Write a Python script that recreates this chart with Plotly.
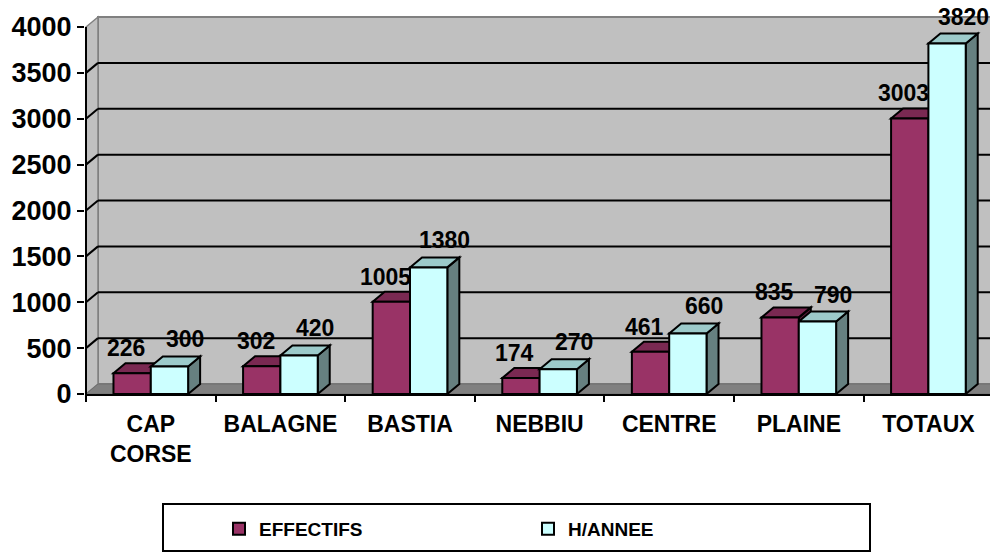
import plotly.graph_objects as go

# ---------------- data ----------------
categories = ["CAP<br>CORSE", "BALAGNE", "BASTIA", "NEBBIU", "CENTRE", "PLAINE", "TOTAUX"]
effectifs = [226, 302, 1005, 174, 461, 835, 3003]
h_annee = [300, 420, 1380, 270, 660, 790, 3820]
series_names = ["EFFECTIFS", "H/ANNEE"]
y_ticks = [0, 500, 1000, 1500, 2000, 2500, 3000, 3500, 4000]

# ---------------- styling / geometry ----------------
W, H = 990, 553
AXIS_X_PX = 86          # pixel of the value axis line
FLOOR_Y_PX = 394        # pixel of value 0 (front)
ML, MT = 85, 10
MB = H - FLOOR_Y_PX
CAT_PX = 129.6          # pixels per category
Y_MAX = 4000
Y_SPAN_PX = 367         # pixels from 0 to 4000
DX_PX, DY_PX = 12, 10   # 3D depth offset
BAR_W = 0.288           # bar width in category units

px_per_val = Y_SPAN_PX / Y_MAX
plot_h = H - MT - MB
y_range = [0, plot_h / px_per_val]
x_lo = -0.5 - (AXIS_X_PX - ML) / CAT_PX
x_hi = -0.5 + (W - AXIS_X_PX) / CAT_PX
dx = DX_PX / CAT_PX
dv = DY_PX / px_per_val
x_wall = -0.5

FONT = "Liberation Sans, Arial, sans-serif"
colors_front = ["#993366", "#CCFFFF"]
colors_top = ["#7A2952", "#9CCACA"]
colors_side = ["#5C1F3D", "#668080"]
WALL = "#C0C0C0"
FLOOR = "#808080"
EDGE = "#808080"

fig = go.Figure()
values = [effectifs, h_annee]
for s in range(2):
    fig.add_trace(go.Bar(
        x=categories, y=values[s], name=series_names[s],
        marker=dict(color=colors_front[s], line=dict(color="black", width=2)),
        hoverinfo="skip",
    ))

shapes = []
# back wall
shapes.append(dict(type="rect", xref="x", yref="y", x0=x_wall + dx, x1=x_hi + 1,
                   y0=dv, y1=Y_MAX + dv, fillcolor=WALL, line=dict(color=EDGE, width=2),
                   layer="below"))
# left wall
shapes.append(dict(type="path", xref="x", yref="y",
                   path=f"M {x_wall},0 L {x_wall},{Y_MAX} L {x_wall+dx},{Y_MAX+dv} L {x_wall+dx},{dv} Z",
                   fillcolor=WALL, line=dict(color=EDGE, width=1.5), layer="below"))
# floor
shapes.append(dict(type="path", xref="x", yref="y",
                   path=f"M {x_wall},0 L {x_hi+1},0 L {x_hi+1},{dv} L {x_wall+dx},{dv} Z",
                   fillcolor=FLOOR, line=dict(color="#6E6E6E", width=1), layer="below"))
# grid lines on back wall
for v in y_ticks[1:-1]:
    shapes.append(dict(type="line", xref="x", yref="y", x0=x_wall + dx, x1=x_hi + 1,
                       y0=v + dv, y1=v + dv, line=dict(color="black", width=2), layer="below"))
    shapes.append(dict(type="line", xref="x", yref="y", x0=x_wall, x1=x_wall + dx,
                       y0=v, y1=v + dv, line=dict(color="black", width=2), layer="below"))
# 3D top and side faces of bars
for i in range(len(categories)):
    for s in range(2):
        v = values[s][i]
        x0 = i - BAR_W + s * BAR_W
        x1 = x0 + BAR_W
        shapes.append(dict(type="path", xref="x", yref="y",
                           path=f"M {x1},0 L {x1},{v} L {x1+dx},{v+dv} L {x1+dx},{dv} Z",
                           fillcolor=colors_side[s], line=dict(color="black", width=2),
                           layer="below"))
        shapes.append(dict(type="path", xref="x", yref="y",
                           path=f"M {x0},{v} L {x1},{v} L {x1+dx},{v+dv} L {x0+dx},{v+dv} Z",
                           fillcolor=colors_top[s], line=dict(color="black", width=2),
                           layer="below"))
# value axis line
shapes.append(dict(type="line", xref="x", yref="y", x0=x_wall, x1=x_wall, y0=0, y1=Y_MAX,
                   line=dict(color="black", width=2), layer="above"))
# legend box (paper coords)
def px2paper_x(px):
    return (px - ML) / (W - ML)
def px2paper_y(py):
    return (FLOOR_Y_PX - py) / plot_h
shapes.append(dict(type="rect", xref="paper", yref="paper",
                   x0=px2paper_x(163), x1=px2paper_x(870),
                   y0=px2paper_y(551), y1=px2paper_y(504),
                   line=dict(color="black", width=2), fillcolor="rgba(0,0,0,0)"))

annotations = []
label_xshift = [-6, 16]
label_yshift = [25, 27]
for i in range(len(categories)):
    for s in range(2):
        v = values[s][i]
        xc = i - BAR_W / 2 + s * BAR_W
        annotations.append(dict(x=xc, y=v, xref="x", yref="y", text=str(v), showarrow=False,
                                xshift=label_xshift[s], yshift=label_yshift[s],
                                yanchor="middle", xanchor="center",
                                font=dict(family=FONT, size=23, color="black", weight="bold")))

fig.update_layout(
    width=W, height=H,
    margin=dict(l=ML, r=0, t=MT, b=MB, pad=0, autoexpand=False),
    paper_bgcolor="white", plot_bgcolor="white",
    barmode="group", bargap=1 - 2 * BAR_W, bargroupgap=0,
    shapes=shapes, annotations=annotations,
    showlegend=True, hovermode=False,
    legend=dict(orientation="h", xref="container", yref="container",
                x=219 / W, y=1 - 529 / H, xanchor="left", yanchor="middle",
                entrywidth=264, bgcolor="rgba(0,0,0,0)", borderwidth=0,
                font=dict(family=FONT, size=19, color="black", weight="bold")),
    xaxis=dict(type="category", range=[x_lo, x_hi], showgrid=False, zeroline=False,
               automargin=False,
               showline=True, linecolor="black", linewidth=2,
               ticks="outside", tickson="boundaries", ticklen=6, tickwidth=2, tickcolor="black",
               ticklabelstandoff=8,
               tickfont=dict(family=FONT, size=23, color="black", weight="bold")),
    yaxis=dict(range=y_range, tickvals=y_ticks, showgrid=False, zeroline=False, showline=False,
               automargin=False,
               ticks="outside", ticklen=7, tickwidth=2, tickcolor="black",
               tickfont=dict(family=FONT, size=27, color="black", weight="bold")),
)

fig.write_html("out.html", config={"displayModeBar": False, "staticPlot": True},
               post_script="document.body.style.margin='0px';document.body.style.overflow='hidden';")
